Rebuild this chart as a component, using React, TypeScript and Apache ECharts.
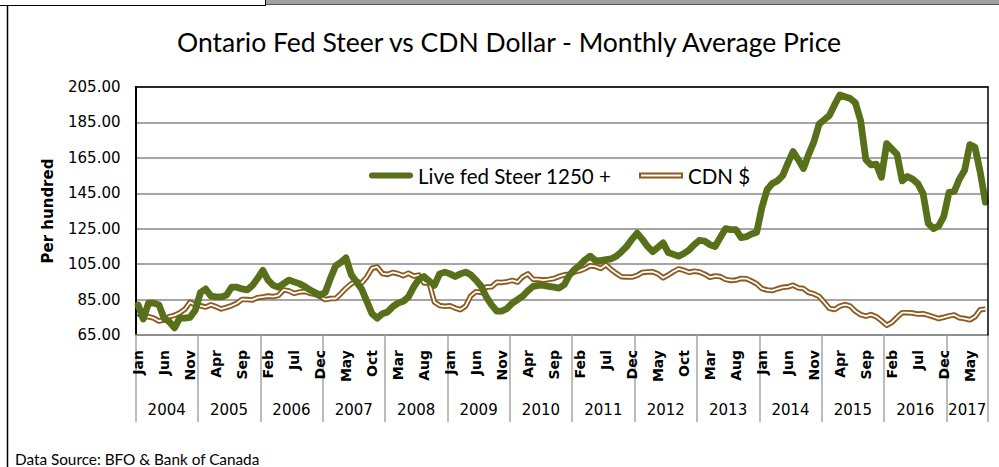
import React, { useEffect, useRef } from 'react';
import * as echarts from 'echarts';

const monthNames = ['Jan', 'Feb', 'Mar', 'Apr', 'May', 'Jun', 'Jul', 'Aug', 'Sep', 'Oct', 'Nov', 'Dec'];
const years = [2004, 2005, 2006, 2007, 2008, 2009, 2010, 2011, 2012, 2013, 2014, 2015, 2016, 2017];
const monthsInLastYear = 8;

const categories: string[] = [];
years.forEach((y, yi) => {
  const n = yi === years.length - 1 ? monthsInLastYear : 12;
  for (let m = 0; m < n; m++) categories.push(monthNames[m] + ' ' + y);
});

// Live fed Steer 1250+ ($ per hundred)
const steer = [
  82, 74, 83, 83, 82, 74.5, 72.5, 69, 74.5, 74.5, 75, 79,
  89, 91, 87, 86.5, 86.5, 87.5, 92, 92, 91, 90.5, 93, 97,
  101.5, 96, 93, 92, 94, 96, 95, 94, 92.5, 90.5, 89, 87.5,
  89, 97, 104, 106, 108.5, 99, 95, 91, 84, 77, 74.5, 77,
  78, 81, 83, 84, 86.5, 92, 96.5, 98, 95.5, 93, 99.5, 100.5,
  99.5, 98, 99.5, 100.5, 99, 96, 92.5, 86.5, 82, 78.5, 78.5, 80,
  83, 85, 87, 90, 92.5, 93, 93, 92.5, 92, 91.5, 93.5, 99,
  102, 104.5, 107.5, 109.5, 107, 107, 107.5, 108, 109.5, 112, 115, 119,
  122.5, 119, 115, 112, 114.5, 117, 111.5, 110.5, 109.5, 111, 113, 116,
  118.5, 118, 116, 115, 120, 125, 124.5, 124.5, 120, 120.5, 122, 123,
  137, 147, 150.5, 152, 155, 162, 168.5, 164, 159, 167, 174, 184,
  186.5, 189, 195, 200.5, 199.5, 198.5, 196, 186, 164, 161, 161.5, 154,
  173, 170, 167, 152, 154.5, 153, 150.5, 145, 128, 125, 126.5, 132,
  145.5, 146, 153, 158, 172.5, 171, 157, 140,
];

// CDN $ (US cents)
const cdn = [
  77.2, 75.2, 75.4, 74.5, 72.9, 73.5, 75.4, 76.1, 77.5, 79.5, 83.5, 82.0,
  81.5, 80.8, 82.0, 81.0, 79.7, 80.6, 81.6, 82.9, 85.1, 85.0, 84.8, 86.1,
  86.5, 87.0, 86.7, 87.4, 90.5, 89.9, 88.5, 89.2, 89.6, 88.6, 88.0, 86.7,
  85.0, 85.6, 85.6, 88.3, 91.4, 93.9, 95.3, 94.3, 97.8, 102.7, 103.4, 99.7,
  99.2, 100.3, 99.6, 98.5, 99.9, 98.3, 98.8, 94.4, 94.4, 83.6, 81.6, 81.2,
  81.5, 80.2, 79.3, 81.3, 87.1, 89.5, 89.0, 92.1, 92.2, 94.8, 94.7, 95.1,
  95.8, 94.9, 97.9, 99.5, 96.4, 96.4, 96.0, 96.4, 96.9, 98.1, 99.0, 99.3,
  100.6, 101.3, 102.5, 104.1, 103.7, 102.6, 104.6, 102.0, 99.8, 97.9, 97.8, 97.7,
  98.6, 100.3, 100.6, 100.7, 99.5, 97.3, 98.9, 100.8, 102.3, 101.5, 100.4, 101.0,
  100.6, 99.3, 97.6, 98.3, 98.0, 96.4, 95.8, 96.0, 96.9, 96.8, 95.5, 93.9,
  91.2, 90.4, 90.1, 91.1, 91.9, 92.2, 93.1, 91.6, 91.2, 89.0, 88.2, 86.8,
  83.5, 80.0, 79.4, 81.3, 82.2, 81.3, 78.4, 76.5, 75.6, 76.5, 75.3, 73.1,
  70.5, 72.1, 75.0, 77.6, 77.6, 77.4, 76.8, 77.0, 76.2, 75.3, 74.3, 75.0,
  75.8, 76.3, 74.7, 74.3, 73.6, 75.3, 79.3, 79.6,
];

const GREEN = '#58701a';
const BROWN = '#8c5a1e';
const GRID_GREY = '#878787';
const TAHOMA = 'DejaVu Sans';
const CALIBRI = 'Lato';

export default function App() {
  const ref = useRef<HTMLDivElement>(null);

  useEffect(() => {
    if (!ref.current) return;
    const chart = echarts.init(ref.current, undefined, { renderer: 'svg' });
    const lastYearMid = categories.length - monthsInLastYear + Math.floor(monthsInLastYear / 2) - 1;

    const option: any = {
      animation: false,
      backgroundColor: '#ffffff',
      title: {
        text: 'Ontario Fed Steer vs CDN Dollar - Monthly Average Price',
        left: 177,
        top: 28,
        padding: 0,
        textStyle: { fontFamily: CALIBRI, fontSize: 26.5, fontWeight: 'normal', color: '#000' },
      },
      legend: [
        {
          data: [{ name: 'Live fed Steer 1250 +', icon: 'path://M3,0L41,0A3,3 0 0 1 41,6L3,6A3,3 0 0 1 3,0Z' }],
          left: 369,
          top: 165,
          padding: 0,
          itemWidth: 44,
          itemHeight: 7,
          selectedMode: false,
          textStyle: { fontFamily: CALIBRI, fontSize: 20.5, color: '#000' },
        },
        {
          data: [{ name: 'CDN $', icon: 'path://M0,0L44,0L44,6L0,6Z M2,2L2,4L42,4L42,2Z' }],
          left: 639,
          top: 165,
          padding: 0,
          itemWidth: 44,
          itemHeight: 6,
          selectedMode: false,
          textStyle: { fontFamily: CALIBRI, fontSize: 20.5, color: '#000' },
        },
      ],
      grid: { left: 135.5, right: 11, top: 87, bottom: 132, containLabel: false },
      xAxis: [
        {
          type: 'category',
          data: categories,
          boundaryGap: true,
          position: 'bottom',
          axisLine: { show: true, lineStyle: { color: GRID_GREY, width: 1.5 } },
          axisTick: {
            show: true,
            interval: (i: number) => i % 12 === 0,
            length: 87,
            lineStyle: { color: '#a6a6a6', width: 1.5 },
          },
          axisLabel: {
            interval: (i: number) => i % 5 === 0,
            rotate: 90,
            margin: 15,
            formatter: (v: string) => v.split(' ')[0],
            fontFamily: TAHOMA,
            fontWeight: 'bold',
            fontSize: 14,
            color: '#000',
          },
          splitLine: { show: false },
        },
        {
          type: 'category',
          data: categories,
          position: 'top',
          z: 5,
          axisLine: { show: true, lineStyle: { color: '#000', width: 1.5 } },
          axisTick: { show: false },
          axisLabel: { show: false },
          splitLine: { show: false },
        },
        {
          type: 'category',
          data: categories,
          position: 'bottom',
          axisLine: { show: false },
          axisTick: { show: false },
          splitLine: { show: false },
          axisLabel: {
            interval: (i: number) => i % 12 === 5 || i === lastYearMid,
            formatter: (v: string) => v.split(' ')[1],
            margin: 67,
            padding: [0, 0, 0, 5.2],
            fontFamily: TAHOMA,
            fontSize: 15,
            color: '#000',
          },
        },
      ],
      yAxis: [
        {
          type: 'value',
          min: 65,
          max: 205,
          interval: 20,
          name: 'Per hundred',
          nameLocation: 'middle',
          nameGap: 80,
          nameTextStyle: { fontFamily: TAHOMA, fontWeight: 'bold', fontSize: 15, color: '#000' },
          axisLine: { show: true, lineStyle: { color: '#000', width: 2 } },
          axisTick: { show: false },
          axisLabel: {
            formatter: (v: number) => v.toFixed(2),
            margin: 15,
            fontFamily: TAHOMA,
            fontSize: 15,
            color: '#000',
          },
          splitLine: { show: true, lineStyle: { color: GRID_GREY, width: 1.5 } },
        },
        {
          type: 'value',
          min: 65,
          max: 205,
          interval: 20,
          position: 'right',
          z: 5,
          axisLine: { show: true, lineStyle: { color: '#000', width: 1.5 } },
          axisTick: { show: false },
          axisLabel: { show: false },
          splitLine: { show: false },
        },
      ],
      series: [
        {
          name: 'CDN $',
          type: 'line',
          data: cdn,
          symbol: 'none',
          z: 2,
          itemStyle: { color: BROWN },
          lineStyle: { color: BROWN, width: 5.5, join: 'round' },
        },
        {
          name: 'CDN $ (inner)',
          type: 'line',
          data: cdn,
          symbol: 'none',
          z: 3,
          silent: true,
          itemStyle: { color: '#ffffff' },
          lineStyle: { color: '#ffffff', width: 1.8, join: 'round' },
        },
        {
          name: 'Live fed Steer 1250 +',
          type: 'line',
          data: steer,
          symbol: 'none',
          z: 4,
          itemStyle: { color: GREEN },
          lineStyle: { color: GREEN, width: 6.8, cap: 'round', join: 'round' },
        },
      ],
      graphic: [
        { type: 'line', silent: true, shape: { x1: 0, y1: 5.5, x2: 265, y2: 5.5 }, style: { stroke: '#000', lineWidth: 1 } },
        { type: 'rect', silent: true, shape: { x: 265, y: 0, width: 734, height: 4 }, style: { fill: '#a0a0a0' } },
        { type: 'line', silent: true, shape: { x1: 265, y1: 4.5, x2: 999, y2: 4.5 }, style: { stroke: '#555', lineWidth: 1 } },
        { type: 'line', silent: true, shape: { x1: 265.5, y1: 0, x2: 265.5, y2: 6 }, style: { stroke: '#000', lineWidth: 1 } },
        { type: 'line', silent: true, shape: { x1: 7.5, y1: 6, x2: 7.5, y2: 467 }, style: { stroke: '#000', lineWidth: 1.5 } },
        {
          type: 'text',
          left: 15,
          top: 451,
          style: { text: 'Data Source: BFO & Bank of Canada', fontFamily: CALIBRI, fontSize: 15.3, fill: '#000' },
        },
      ],
    };

    chart.setOption(option);
    return () => chart.dispose();
  }, []);

  return (
    <div
      ref={ref}
      style={{ position: 'fixed', left: 0, top: 0, width: 999, height: 467, background: '#fff' }}
    />
  );
}
